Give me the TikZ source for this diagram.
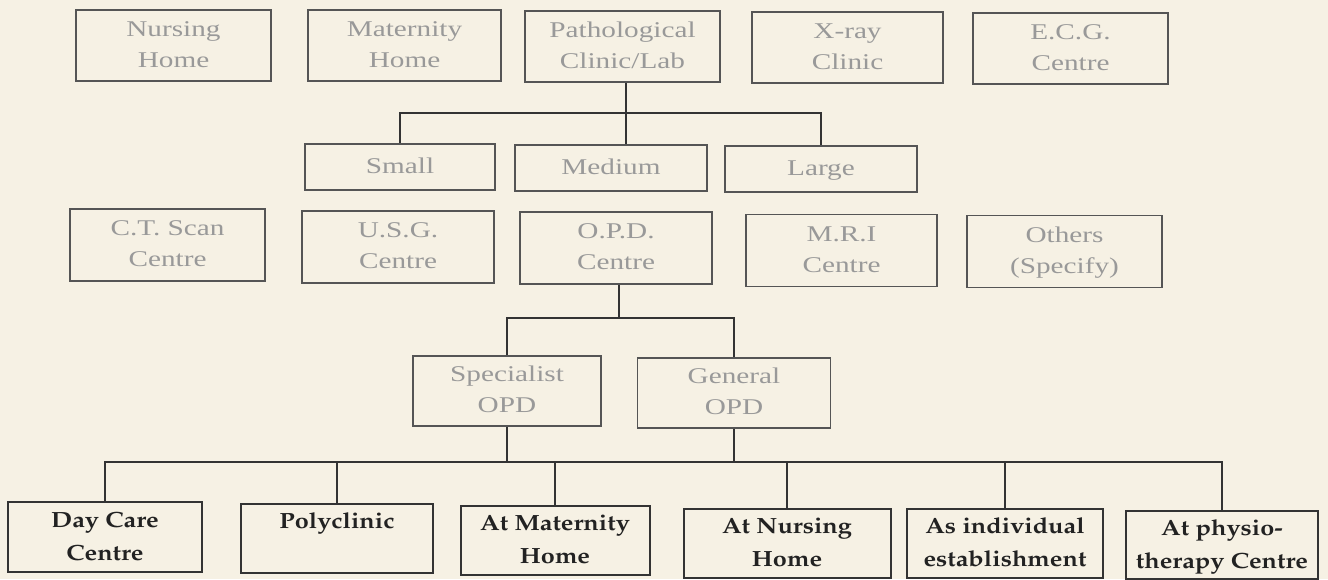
\documentclass[tikz,border=0pt]{standalone}
\usepackage[T1]{fontenc}
\usepackage{fontspec}
\setmainfont{Liberation Serif}
\usepackage{graphicx}
\definecolor{bg}{HTML}{F6F1E4}
\definecolor{boxline}{HTML}{555555}
\definecolor{darkline}{HTML}{333333}
\definecolor{lighttext}{HTML}{999999}
\definecolor{darktext}{HTML}{222222}
\newcommand{\toptxt}[1]{\scalebox{1.3}[1]{\fontsize{22.5}{31}\selectfont\begin{tabular}{@{}c@{}}#1\end{tabular}}}
\newcommand{\bottxt}[1]{\scalebox{1.15}[1]{\fontencoding{T1}\fontfamily{ppl}\fontseries{b}\fontsize{22}{33}\selectfont\begin{tabular}{@{}c@{}}#1\end{tabular}}}
\tikzset{
  tbox/.style={draw=boxline, line width=1.8pt, text=lighttext, inner sep=0pt},
  bbox/.style={draw=darkline, line width=2pt, text=darktext, inner sep=0pt},
  conn/.style={draw=darkline, line width=2pt},
}
\begin{document}
\begin{tikzpicture}[x=1pt,y=-1pt]
\fill[bg] (0,0) rectangle (1328,579);
\useasboundingbox (0,0) rectangle (1328,579);
% row 1
\node[tbox, minimum width=195pt, minimum height=71pt] (nursing) at (173.5,45.5) {\toptxt{Nursing\\Home}};
\node[tbox, minimum width=193pt, minimum height=71pt] (maternity) at (404.5,45.5) {\toptxt{Maternity\\Home}};
\node[tbox, minimum width=195pt, minimum height=71pt] (path) at (622.5,46.5) {\toptxt{Pathological\\Clinic/Lab}};
\node[tbox, minimum width=191pt, minimum height=71pt] (xray) at (847.5,47.5) {\toptxt{X-ray\\Clinic}};
\node[tbox, minimum width=195pt, minimum height=71pt] (ecg) at (1070.5,48.5) {\toptxt{E.C.G.\\Centre}};
% row 2
\node[tbox, minimum width=190pt, minimum height=46pt] (small) at (400,167) {\toptxt{Small}};
\node[tbox, minimum width=192pt, minimum height=46pt] (medium) at (611,168) {\toptxt{Medium}};
\node[tbox, minimum width=192pt, minimum height=46pt] (large) at (821,169) {\toptxt{Large}};
% row 3
\node[tbox, minimum width=195pt, minimum height=72pt] (ct) at (167.5,245) {\toptxt{C.T. Scan\\Centre}};
\node[tbox, minimum width=192pt, minimum height=72pt] (usg) at (398,247) {\toptxt{U.S.G.\\Centre}};
\node[tbox, minimum width=192pt, minimum height=72pt] (opd) at (616,248) {\toptxt{O.P.D.\\Centre}};
\node[tbox, minimum width=191pt, minimum height=72pt] (mri) at (841.5,250.5) {\toptxt{M.R.I\\Centre}};
\node[tbox, minimum width=195pt, minimum height=72pt] (others) at (1064.5,251.5) {\toptxt{Others\\(Specify)}};
% row 4
\node[tbox, minimum width=188pt, minimum height=70pt] (spec) at (507,391) {\toptxt{Specialist\\OPD}};
\node[tbox, minimum width=193pt, minimum height=70pt] (gen) at (734,393) {\toptxt{General\\OPD}};
% row 5
\node[bbox, minimum width=194pt, minimum height=70pt] (daycare) at (105,537) {\bottxt{Day Care\\Centre}};
\node[bbox, minimum width=192pt, minimum height=69pt] (poly) at (337,538.5) {\bottxt{Polyclinic\\{}}};
\node[bbox, minimum width=189pt, minimum height=69pt] (atmat) at (555,540.5) {\bottxt{At Maternity\\Home}};
\node[bbox, minimum width=207pt, minimum height=69pt] (atnur) at (787,543.5) {\bottxt{At Nursing\\Home}};
\node[bbox, minimum width=196pt, minimum height=69pt] (indiv) at (1005,543.5) {\bottxt{As individual\\establishment}};
\node[bbox, minimum width=192pt, minimum height=68pt] (physio) at (1222,545) {\bottxt{At physio-\\therapy Centre}};
% connectors
\coordinate (h1) at (626,113);
\coordinate (h2) at (619,318);
\coordinate (h3) at (612,462);
\draw[conn] (small.north) |- (h1) -| (large.north);
\draw[conn] (path.south -| h1) -- (medium.north -| h1);
\draw[conn] (opd.south -| h2) -- (h2);
\draw[conn] (spec.north) |- (h2) -| (gen.north);
\draw[conn] (daycare.north) |- (h3) -| (physio.north);
\draw[conn] (spec.south) -- (spec.south |- h3);
\draw[conn] (gen.south) -- (gen.south |- h3);
\draw[conn] (poly.north) -- (poly.north |- h3);
\draw[conn] (atmat.north) -- (atmat.north |- h3);
\draw[conn] (atnur.north) -- (atnur.north |- h3);
\draw[conn] (indiv.north) -- (indiv.north |- h3);
\end{tikzpicture}
\end{document}
